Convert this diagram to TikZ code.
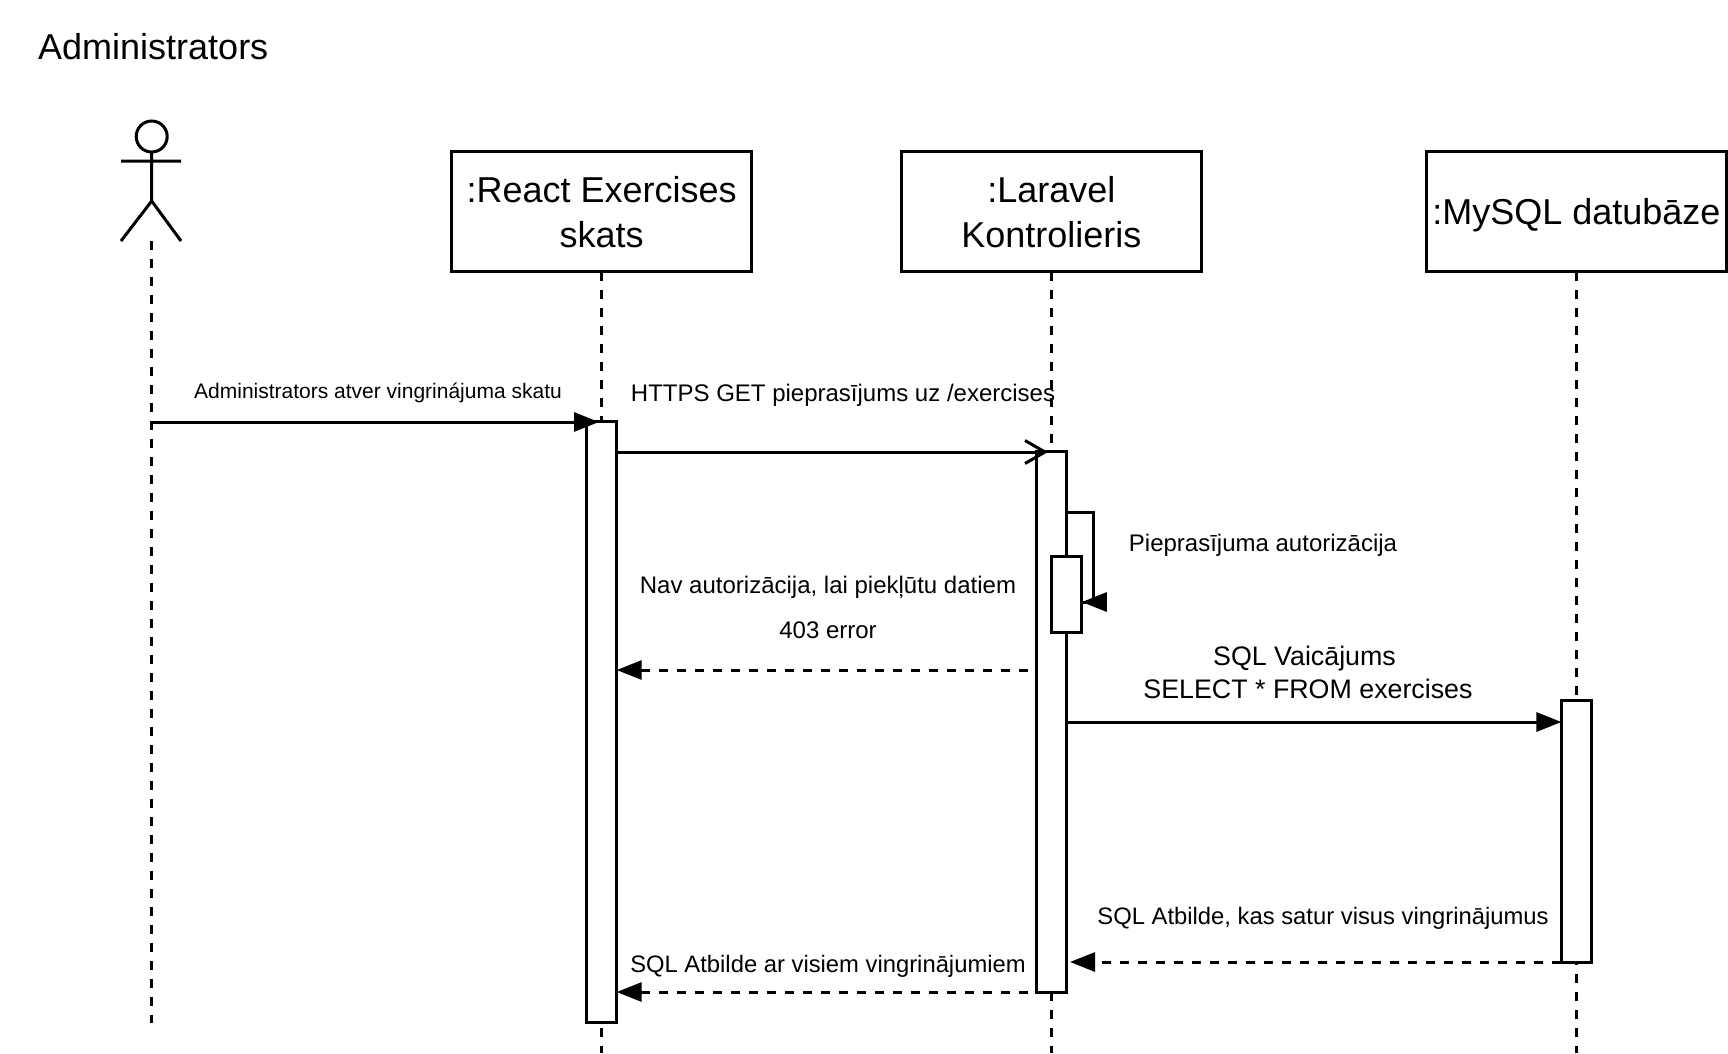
\documentclass[tikz,border=0pt]{standalone}
\usepackage{fontspec}
\setmainfont{Liberation Sans}
\usetikzlibrary{arrows.meta}
\tikzset{
  obj/.style={draw,line width=3pt,outer sep=0pt,minimum width=300pt,minimum height=120pt,align=center,inner sep=0pt,font=\fontsize{36}{45}\selectfont},
  bar/.style={draw,fill=white,line width=3pt,outer sep=0pt,minimum width=30pt,inner sep=0pt,anchor=north},
  lifeline/.style={line width=3pt,dash pattern=on 9pt off 9pt},
  msg/.style={line width=3pt,-{Triangle[length=25pt,width=19pt]}},
  reply/.style={msg,dash pattern=on 9pt off 9pt},
  txt/.style={anchor=base,inner sep=0pt,font=\fontsize{24}{30}\selectfont},
  txtsmall/.style={txt,font=\fontsize{23.8}{30}\selectfont},
  txtsql/.style={txt,font=\fontsize{26.8}{33}\selectfont},
}
\begin{document}
\begin{tikzpicture}[x=1pt,y=-1pt]
  \useasboundingbox (0,0) rectangle (1728,1053);
  \node (title) [anchor=base west,inner sep=0pt,font=\fontsize{36}{44}\selectfont] at (38,59) {Administrators};
  \node (head) [draw,circle,line width=3pt,outer sep=0pt,minimum size=31pt,inner sep=0pt] at (151.7,136.5) {};
  \coordinate (hip) at (151.7,201);
  \coordinate (armL) at (121,161);
  \coordinate (armR) at (181,161);
  \coordinate (legL) at (121,241);
  \coordinate (legR) at (181,241);
  \coordinate (actorTop) at (151.7,241);
  \coordinate (actorEnd) at (151.7,1023);
  \draw[line width=3pt] (head.south) -- (hip) (armL) -- (armR) (legL) -- (hip) -- (legR);
  \node (react) [obj,text depth=-3.5pt] at (601.7,211.5) {:React Exercises\\skats};
  \node (laravel) [obj,text depth=-3.5pt] at (1051.4,211.5) {:Laravel\\Kontrolieris};
  \node (mysql) [obj,text depth=-2.5pt] at (1576.4,211.5) {:MySQL datubāze};
  \coordinate (reactEnd) at (601.7,1053);
  \coordinate (laravelEnd) at (1051.4,1053);
  \coordinate (mysqlEnd) at (1576.4,1053);
  \draw[lifeline] (actorTop) -- (actorEnd);
  \draw[lifeline] (react.south) -- (reactEnd);
  \draw[lifeline] (laravel.south) -- (laravelEnd);
  \draw[lifeline] (mysql.south) -- (mysqlEnd);
  \node (barReact) [bar,minimum height=601pt] at (601.7,421) {};
  \node (barLaravel) [bar,minimum height=541.5pt] at (1051.4,451) {};
  \node (barAuth) [bar,minimum height=75.5pt] at (1066.8,556.5) {};
  \node (barMysql) [bar,minimum height=261.5pt] at (1576.4,700.5) {};
  \coordinate (openFrom) at (151.7,422);
  \coordinate (openTo) at (599,422);
  \coordinate (getFrom) at (barReact.east |- 0,452);
  \coordinate (getTo) at (1048,452);
  \coordinate (selfFrom) at (barLaravel.east |- 0,512);
  \coordinate (selfTurn) at (1093.5,602);
  \coordinate (selfTip) at (barAuth.east |- selfTurn);
  \coordinate (selfBack) at (1107.2,602);
  \coordinate (denyFrom) at (1028,670);
  \coordinate (denyTo) at (barReact.east |- denyFrom);
  \coordinate (sqlFrom) at (barLaravel.east |- 0,722);
  \coordinate (sqlTo) at (barMysql.west |- sqlFrom);
  \coordinate (rowsTo) at (1070,962);
  \coordinate (rowsFrom) at (barMysql.west |- rowsTo);
  \coordinate (listFrom) at (1028,992);
  \coordinate (listTo) at (barReact.east |- listFrom);
  \path[msg]
    (openFrom) edge (openTo)
    (sqlFrom) edge (sqlTo)
    (selfBack) edge (selfTip);
  \path[line width=3pt,-{Straight Barb[length=20pt,width=23pt]}]
    (getFrom) edge (getTo);
  \draw[line width=3pt] (selfFrom) -| (selfTurn) -- (selfTip);
  \path[reply]
    (denyFrom) edge (denyTo)
    (rowsFrom) edge (rowsTo)
    (listFrom) edge (listTo);
  \node (txtOpen) [txt,font=\fontsize{21}{26}\selectfont] at (378,398) {Administrators atver vingrinájuma skatu};
  \node (txtGet) [txt] at (843,401) {HTTPS GET pieprasījums uz /exercises};
  \node (txtSelf) [txt] at (1263,551.5) {Pieprasījuma autorizācija};
  \node (txtDeny) [txt] at (828,593) {Nav autorizācija, lai piekļūtu datiem};
  \node (txtCode) [txt] at (828,638) {403 error};
  \node (txtSql) [txtsql] at (1304.5,665) {SQL Vaicājums};
  \node (txtSelect) [txtsql] at (1308,698) {SELECT * FROM exercises};
  \node (txtRows) [txtsmall] at (1323,924) {SQL Atbilde, kas satur visus vingrinājumus};
  \node (txtList) [txtsmall] at (828,972) {SQL Atbilde ar visiem vingrinājumiem};
\end{tikzpicture}
\end{document}
